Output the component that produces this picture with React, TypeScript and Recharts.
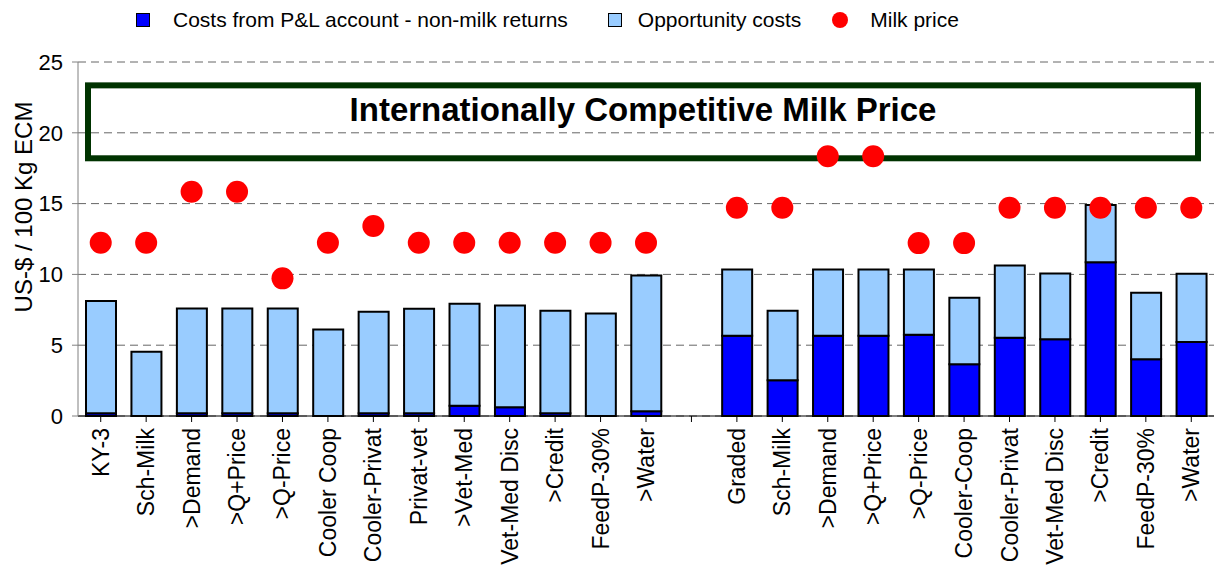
import {
  Bar,
  CartesianGrid,
  ComposedChart,
  Legend,
  ReferenceArea,
  Scatter,
  XAxis,
  YAxis,
} from "recharts";

const FONT = "Arial, 'Liberation Sans', sans-serif";

const categories = [
  "KY-3", "Sch-Milk", ">Demand", ">Q+Price", ">Q-Price", "Cooler Coop",
  "Cooler-Privat", "Privat-vet", ">Vet-Med", "Vet-Med Disc", ">Credit",
  "FeedP-30%", ">Water", "",
  "Graded", "Sch-Milk", ">Demand", ">Q+Price", ">Q-Price", "Cooler-Coop",
  "Cooler-Privat", "Vet-Med Disc", ">Credit", "FeedP-30%", ">Water",
];

// costs from P&L account - non-milk returns
const plCosts = [
  0.2, 0, 0.2, 0.2, 0.2, 0, 0.2, 0.2, 0.73, 0.62, 0.2, 0, 0.33, null,
  5.66, 2.52, 5.66, 5.66, 5.73, 3.66, 5.52, 5.42, 10.85, 4.01, 5.23,
];

const opportunityCosts = [
  7.93, 4.53, 7.4, 7.4, 7.4, 6.1, 7.16, 7.37, 7.19, 7.18, 7.23, 7.24, 9.6, null,
  4.69, 4.91, 4.69, 4.69, 4.62, 4.69, 5.11, 4.65, 4.05, 4.69, 4.81,
];

const milkPrice = [
  12.23, 12.23, 15.84, 15.84, 9.72, 12.23, 13.42, 12.23, 12.23, 12.23, 12.23, 12.23, 12.23, null,
  14.71, 14.71, 18.34, 18.34, 12.21, 12.21, 14.71, 14.71, 14.71, 14.71, 14.71,
];

const yTicks = [0, 5, 10, 15, 20, 25];

// "Internationally Competitive Milk Price" band
const boxBottom = 18.2;
const boxTop = 23.35;
const boxTitle = "Internationally Competitive Milk Price";

const data = categories.map((name, i) => ({
  name,
  pl: plCosts[i],
  opp: opportunityCosts[i],
  price: milkPrice[i],
}));

const legendItems = [
  { label: "Costs from P&L account - non-milk returns", color: "#0000FF", kind: "square", gap: 23, after: 40 },
  { label: "Opportunity costs", color: "#99CCFF", kind: "square", gap: 16, after: 31 },
  { label: "Milk price", color: "#FF0000", kind: "dot", gap: 22, after: 0 },
];

const LegendRow = () => (
  <div
    style={{
      display: "flex",
      alignItems: "center",
      height: 40,
      paddingLeft: 136,
      fontFamily: FONT,
      fontSize: 21,
      color: "#000",
    }}
  >
    {legendItems.map((item, i) => (
      <div key={i} style={{ display: "flex", alignItems: "center", marginRight: item.after }}>
        {item.kind === "square" ? (
          <span
            style={{
              width: 12,
              height: 12,
              background: item.color,
              border: "1px solid #000",
              marginRight: item.gap,
            }}
          />
        ) : (
          <span
            style={{
              width: 16,
              height: 16,
              borderRadius: 8,
              background: item.color,
              marginRight: item.gap,
            }}
          />
        )}
        <span>{item.label}</span>
      </div>
    ))}
  </div>
);

const XTick = ({ x, y, payload }: any) => (
  <g transform={`translate(${x},${y + 4})`}>
    <text
      transform="rotate(-90)"
      textAnchor="end"
      dominantBaseline="central"
      fontSize={23}
      fontFamily={FONT}
      fill="#000"
    >
      {payload.value}
    </text>
  </g>
);

const Dot = ({ cx, cy }: any) =>
  Number.isFinite(cx) && Number.isFinite(cy) ? (
    <circle cx={cx} cy={cy} r={11} fill="#FF0000" />
  ) : null;

const PriceBox = ({ x, y, width, height }: any) => (
  <g>
    <rect
      x={x + 10}
      y={y}
      width={width - 26}
      height={height}
      fill="none"
      stroke="#003300"
      strokeWidth={6}
    />
    <text
      x={x + 10 + (width - 26) / 2}
      y={y + height / 2 - 1}
      textAnchor="middle"
      fontSize={33}
      fontWeight="bold"
      fontFamily={FONT}
      fill="#000"
    >
      {boxTitle}
    </text>
  </g>
);

const YTitle = ({ viewBox }: any) => (
  <text
    transform={`translate(${viewBox.x + 23},${viewBox.y + viewBox.height / 2 - 32}) rotate(-90)`}
    textAnchor="middle"
    dominantBaseline="central"
    fontSize={24}
    fontFamily={FONT}
    fill="#000"
  >
    US-$ / 100 Kg ECM
  </text>
);

export default function App() {
  return (
    <div style={{ position: "absolute", left: 0, top: 0, fontFamily: FONT }}>
      <ComposedChart
        width={1225}
        height={565}
        data={data}
        margin={{ top: 22, right: 11, bottom: 0, left: 0 }}
      >
        <CartesianGrid vertical={false} stroke="#666" strokeDasharray="8 5" />
        <XAxis
          dataKey="name"
          interval={0}
          height={149}
          tick={<XTick />}
          tickSize={6}
          axisLine={{ stroke: "#000" }}
          tickLine={{ stroke: "#000" }}
        />
        <YAxis
          width={78}
          domain={[0, 25]}
          ticks={yTicks}
          tickSize={6}
          tickMargin={9}
          tick={{ fontSize: 22, fill: "#000", fontFamily: FONT }}
          axisLine={{ stroke: "#808080" }}
          tickLine={{ stroke: "#808080" }}
          label={<YTitle />}
        />
        <Legend verticalAlign="top" wrapperStyle={{ top: 0, left: 0, width: 1225 }} content={<LegendRow />} />
        <ReferenceArea y1={boxBottom} y2={boxTop} shape={<PriceBox />} ifOverflow="visible" />
        <Bar dataKey="pl" stackId="a" fill="#0000FF" stroke="#000" strokeWidth={2} barSize={30} isAnimationActive={false} />
        <Bar dataKey="opp" stackId="a" fill="#99CCFF" stroke="#000" strokeWidth={2} barSize={30} isAnimationActive={false} />
        <Scatter dataKey="price" shape={<Dot />} isAnimationActive={false} />
      </ComposedChart>
    </div>
  );
}
